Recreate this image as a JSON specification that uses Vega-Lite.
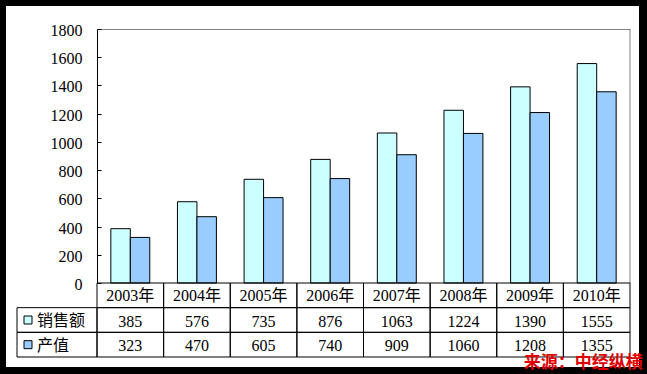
{
  "$schema": "https://vega.github.io/schema/vega-lite/v6.json",
  "width": 633,
  "height": 361,
  "autosize": "none",
  "padding": {"left": 6, "top": 6, "right": 8, "bottom": 7},
  "background": "black",
  "view": {"fill": "white", "stroke": null},
  "config": {
    "font": "Liberation Serif, Noto Sans CJK SC",
    "text": {"font": "Liberation Serif, Noto Sans CJK SC", "fontSize": 16, "color": "black"},
    "axis": {"labelFont": "Liberation Serif", "labelFontSize": 16, "labelColor": "black"}
  },
  "data": {"values": [
    {"year": "2003年", "series": "销售额", "value": 385},
    {"year": "2004年", "series": "销售额", "value": 576},
    {"year": "2005年", "series": "销售额", "value": 735},
    {"year": "2006年", "series": "销售额", "value": 876},
    {"year": "2007年", "series": "销售额", "value": 1063},
    {"year": "2008年", "series": "销售额", "value": 1224},
    {"year": "2009年", "series": "销售额", "value": 1390},
    {"year": "2010年", "series": "销售额", "value": 1555},
    {"year": "2003年", "series": "产值", "value": 323},
    {"year": "2004年", "series": "产值", "value": 470},
    {"year": "2005年", "series": "产值", "value": 605},
    {"year": "2006年", "series": "产值", "value": 740},
    {"year": "2007年", "series": "产值", "value": 909},
    {"year": "2008年", "series": "产值", "value": 1060},
    {"year": "2009年", "series": "产值", "value": 1208},
    {"year": "2010年", "series": "产值", "value": 1355}
  ]},
  "layer": [
    {
      "layer": [
        {
          "mark": {"type": "bar", "stroke": "black", "strokeWidth": 1},
          "encoding": {
            "x": {"field": "year", "type": "nominal",
              "scale": {"domain": ["2003年","2004年","2005年","2006年","2007年","2008年","2009年","2010年"], "range": [91, 624], "paddingInner": 0, "paddingOuter": 0},
              "axis": {"orient": "top", "offset": -23, "domainColor": "#808080", "ticks": false, "labels": false, "title": null, "grid": false}},
            "xOffset": {"field": "series", "type": "nominal", "scale": {"domain": ["销售额", "产值"], "paddingInner": 0, "paddingOuter": 0.71}},
            "y": {"field": "value", "type": "quantitative",
              "scale": {"domain": [0, 1800], "range": [277, 23], "nice": false},
              "axis": {"orient": "left", "offset": -91, "values": [0,200,400,600,800,1000,1200,1400,1600,1800], "format": "d", "tickSize": -4, "labelPadding": 19, "labelOffset": 1.5, "domainColor": "black", "tickColor": "black", "grid": false, "title": null, "labelFlush": false, "labelOverlap": false}},
            "color": {"field": "series", "type": "nominal", "scale": {"domain": ["销售额", "产值"], "range": ["#CCFFFF", "#99CCFF"]}, "legend": null}
          }
        },
        {
          "data": {"values": [{}]},
          "mark": {"type": "rule", "color": "#808080", "strokeWidth": 1},
          "encoding": {
            "x": {"datum": "2010年", "bandPosition": 1},
            "y": {"datum": 0},
            "y2": {"datum": 1800}
          }
        }
      ]
    },
    {
      "layer": [
        {
          "mark": {"type": "rect", "filled": false, "stroke": "black", "strokeWidth": 1},
          "encoding": {
            "x": {"field": "year", "type": "nominal",
              "scale": {"domain": ["2003年","2004年","2005年","2006年","2007年","2008年","2009年","2010年"], "range": [91, 624], "paddingInner": 0, "paddingOuter": 0},
              "axis": null},
            "y": {"field": "series", "type": "nominal",
              "scale": {"domain": ["hdr", "销售额", "产值"], "range": [277, 351], "paddingInner": 0, "paddingOuter": 0},
              "axis": null}
          }
        },
        {
          "transform": [{"filter": "datum.series === '销售额'"}],
          "mark": {"type": "rect", "filled": false, "stroke": "black", "strokeWidth": 1},
          "encoding": {
            "x": {"field": "year", "type": "nominal"},
            "y": {"datum": "hdr"}
          }
        },
        {
          "transform": [{"filter": "datum.series === '销售额'"}],
          "mark": {"type": "text", "baseline": "middle", "dy": 1},
          "encoding": {
            "x": {"field": "year", "type": "nominal"},
            "y": {"datum": "hdr"},
            "text": {"field": "year", "type": "nominal"}
          }
        },
        {
          "mark": {"type": "text", "baseline": "middle", "dy": 1.5},
          "encoding": {
            "x": {"field": "year", "type": "nominal"},
            "y": {"field": "series", "type": "nominal"},
            "text": {"field": "value", "type": "nominal"}
          }
        },
        {
          "data": {"values": [{"src": "来源：中经纵横"}]},
          "mark": {"type": "text", "font": "Noto Sans CJK SC", "fontWeight": "bold", "fontSize": 17, "color": "#E00000", "baseline": "middle", "dy": 6},
          "encoding": {
            "x": {"datum": "2010年", "bandPosition": 0.3},
            "y": {"datum": "产值", "bandPosition": 1},
            "text": {"field": "src", "type": "nominal"}
          }
        }
      ]
    },
    {
      "data": {"values": [{"series": "销售额"}, {"series": "产值"}]},
      "layer": [
        {
          "mark": {"type": "rect", "filled": false, "stroke": "black", "strokeWidth": 1},
          "encoding": {
            "x": {"datum": "lbl", "scale": {"domain": ["lbl"], "range": [11, 91], "paddingInner": 0, "paddingOuter": 0}, "axis": null},
            "y": {"field": "series", "type": "nominal",
              "scale": {"domain": ["hdr", "销售额", "产值"], "range": [277, 351], "paddingInner": 0, "paddingOuter": 0},
              "axis": null}
          }
        },
        {
          "mark": {"type": "point", "shape": "square", "filled": true, "size": 64, "stroke": "black", "strokeWidth": 1, "opacity": 1},
          "encoding": {
            "x": {"datum": "lbl", "bandPosition": 0.1375},
            "y": {"field": "series", "type": "nominal"},
            "color": {"field": "series", "type": "nominal", "legend": null}
          }
        },
        {
          "mark": {"type": "text", "align": "left", "baseline": "middle", "dy": 1},
          "encoding": {
            "x": {"datum": "lbl", "bandPosition": 0.25},
            "y": {"field": "series", "type": "nominal"},
            "text": {"field": "series", "type": "nominal"}
          }
        }
      ]
    }
  ],
  "resolve": {"scale": {"x": "independent", "y": "independent"}}
}
